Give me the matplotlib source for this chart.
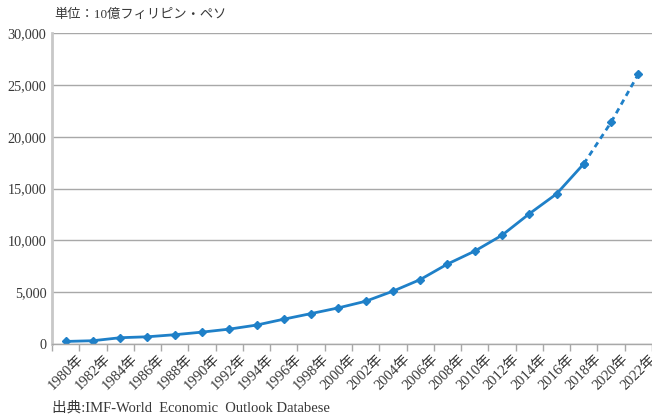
import matplotlib.pyplot as plt
import numpy as np
from matplotlib.ticker import FuncFormatter

plt.rcParams['font.family'] = ['Liberation Serif', 'Noto Sans CJK JP']

# GDP, 10億フィリピン・ペソ, every 2 years
YEARS = [1980, 1982, 1984, 1986, 1988, 1990, 1992, 1994, 1996, 1998, 2000,
         2002, 2004, 2006, 2008, 2010, 2012, 2014, 2016, 2018, 2020, 2022]
GDP = [250, 320, 610, 700, 900, 1150, 1440, 1830, 2400, 2940, 3490,
       4130, 5100, 6220, 7720, 8970, 10500, 12570, 14490, 17400, 21400, 26060]
LABELS = [str(y) + '年' for y in YEARS]
N_ACTUAL = 20  # solid up to 2018, dashed (forecast) after

BLUE = '#1f80c8'
TXT = '#383838'

fig = plt.figure(figsize=(6.52, 4.15), dpi=100)
ax = fig.add_axes([0.0798, 0.171, 0.9202, 0.749])

xpos = np.arange(len(YEARS))
ax.plot(xpos[:N_ACTUAL], GDP[:N_ACTUAL], color=BLUE, lw=2, marker='D', ms=4.5)
ax.plot(xpos[N_ACTUAL - 1:], GDP[N_ACTUAL - 1:], color=BLUE, lw=2,
        ls=(0, (2, 1.6)), marker='D', ms=4.5)

ax.set_xlim(-0.5, len(YEARS) - 0.5)
ax.set_ylim(0, 30000)
ax.set_yticks(np.arange(0, 30001, 5000))
ax.yaxis.set_major_formatter(FuncFormatter(lambda v, p: f'{int(v):,}'))
ax.yaxis.grid(True, color='#a8a8a8', lw=1)
ax.set_axisbelow(True)

ax.set_xticks(xpos)
ax.set_xticklabels(LABELS, rotation=45, ha='center', va='top')
ax.set_xticks(np.arange(-0.5, len(YEARS)), minor=True)
ax.tick_params(axis='x', which='major', length=0, pad=6, labelsize=10.5,
               labelcolor=TXT)
ax.tick_params(axis='x', which='minor', length=5, color='#a8a8a8', width=1)
ax.tick_params(axis='y', length=0, labelsize=10.3, labelcolor=TXT, pad=4)

for s in ['top', 'right']:
    ax.spines[s].set_visible(False)
ax.spines['left'].set_color('#c8c8c8')
ax.spines['left'].set_linewidth(2)
ax.spines['bottom'].set_color('#a8a8a8')
ax.spines['bottom'].set_linewidth(1)

fig.text(0.084, 0.965, '単位：10億フィリピン・ペソ', fontsize=9.5, color=TXT,
         va='center', ha='left')
fig.text(0.08, 0.018, '出典:IMF-World  Economic  Outlook Databese', fontsize=10.5,
         color=TXT, va='center', ha='left')

fig.savefig('out.png', dpi=100)
